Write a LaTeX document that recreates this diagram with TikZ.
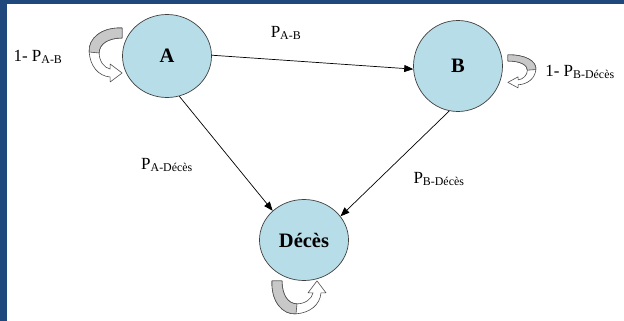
\documentclass[tikz,border=0pt]{standalone}
\usepackage{fontspec}
\setmainfont{Liberation Serif}
\usetikzlibrary{shapes.geometric, arrows.meta, positioning}
\definecolor{cadre}{HTML}{1F497D}
\definecolor{etatfond}{HTML}{B7DDE8}
\definecolor{rubangris}{HTML}{C8C8C8}
\tikzstyle{etat} = [ellipse, minimum width=89pt, minimum height=83pt, inner sep=0pt, draw=black!75, line width=0.7pt, fill=etatfond, font=\fontsize{20.5}{24}\selectfont\bfseries]
\tikzstyle{proba} = [inner sep=0pt, font=\fontsize{17}{19}\selectfont]
\tikzstyle{fleche} = [line width=0.7pt, -{Triangle[length=9pt,width=7pt]}]
\tikzstyle{ruban} = [draw=black!70, line width=0.6pt, line join=round]
\tikzset{boucle/.pic={
  \filldraw[ruban, fill=white] (0,-28) .. controls (-20,-29) and (-34,-18) .. (-33,-4) .. controls (-32,10) and (-24,20) .. (-12,21) -- (-12,26) -- (0,17) -- (-12,8) -- (-12,13) .. controls (-18,12) and (-23,5) .. (-23,-3) .. controls (-23,-12) and (-14,-18) .. (0,-18) -- cycle;
  \filldraw[ruban, fill=rubangris] (0,-28) .. controls (-20,-29) and (-34,-18) .. (-33,-4) -- (-23,-3) .. controls (-23,-12) and (-14,-18) .. (0,-18) -- cycle;
}}

\begin{document}
\begin{tikzpicture}[x=1pt, y=-1pt]
\useasboundingbox (0,0) rectangle (624,321);
\fill[cadre] (0,0) rectangle (624,321);
\fill[white] (7,4) rectangle (624,321);

\node (A) [etat] at (167,56) {A};
\node (B) [etat, minimum height=91pt] at (458,66) {B};
\node (deces) [etat, minimum height=81pt] at (304,240) {Décès};

\node (pab) [proba] at (286,33) {P\textsubscript{A-B}};
\node (pad) [proba] at (167,165) {P\textsubscript{A-Décès}};
\node (pbd) [proba] at (439,179) {P\textsubscript{B-Décès}};
\node (raa) [proba] at (38,57) {1- P\textsubscript{A-B}};
\node (rbb) [proba] at (580,72) {1- P\textsubscript{B-Décès}};

\draw [fleche] (A.1) -- (B.184);
\draw [fleche] (A.287) -- (deces.137);
\draw [fleche] (B.259) -- (deces.33);

% boucles sur chaque etat
\pic at (A.west) {boucle};
\pic[xscale=-0.85, yscale=0.61] at ([shift={(5pt,-6pt)}]B.east) {boucle};
\pic[rotate=90] at ([xshift=-4pt]deces.south) {boucle};
\end{tikzpicture}
\end{document}
